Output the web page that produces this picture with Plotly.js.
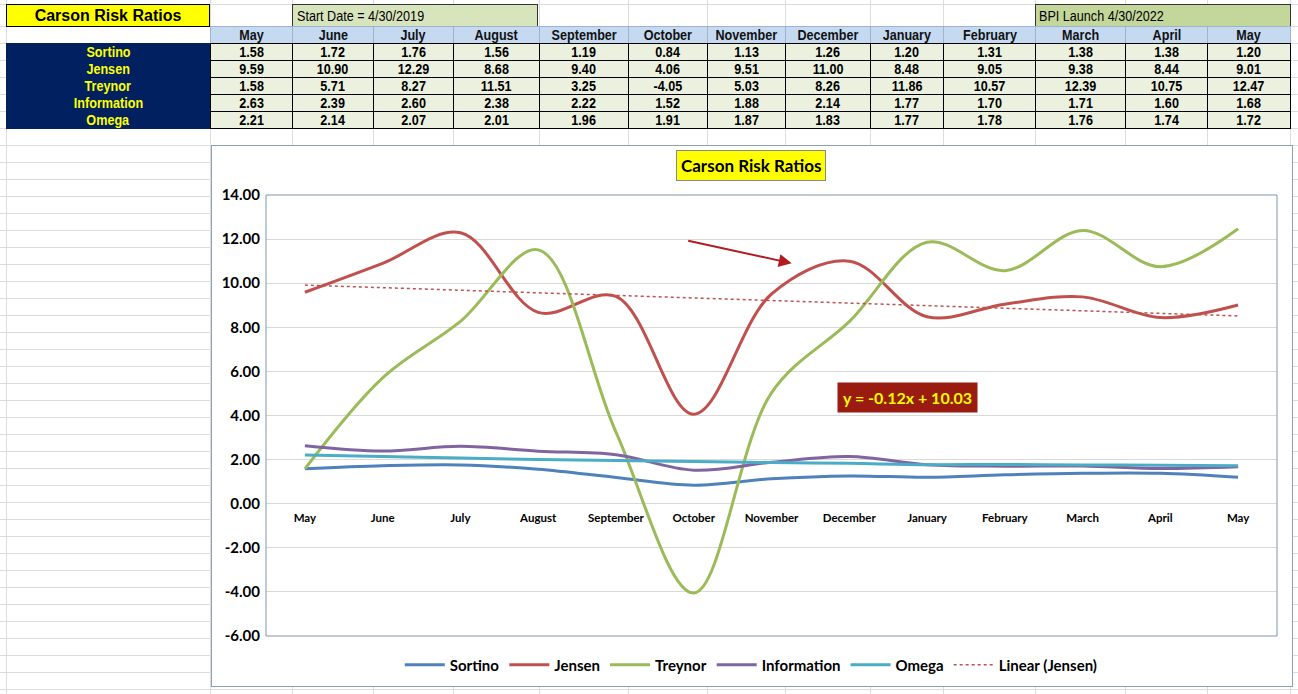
<!DOCTYPE html>
<html>
<head>
<meta charset="utf-8">
<script src="https://cdn.plot.ly/plotly-3.0.1.min.js"></script>
<style>
html, body { margin: 0; padding: 0; background: #fff; width: 1298px; height: 694px; overflow: hidden; position: relative; }
body { font-family: "Liberation Sans", Arial, sans-serif; }
.g { position: absolute; background: #dcdcdc; }
.c { position: absolute; box-sizing: border-box; display: flex; align-items: center; justify-content: center;
     font-weight: bold; font-size: 14px; white-space: nowrap; }
.c span { display: inline-block; transform: scaleX(0.9); transform-origin: center; }
.c.l span { transform-origin: left center; }
#chart { position: absolute; left: 211px; top: 145px; width: 1082px; height: 542px; box-sizing: border-box;
         border: 1px solid #8ca0b6; background: #fff; }
</style>
</head>
<body>
<div id="sheet"></div>
<div id="chart"></div>
<script>
// table / chart data
var months = ['May', 'June', 'July', 'August', 'September', 'October', 'November', 'December', 'January', 'February', 'March', 'April', 'May']
var ratios = ['Sortino', 'Jensen', 'Treynor', 'Information', 'Omega']
var sortino = [1.58, 1.72, 1.76, 1.56, 1.19, 0.84, 1.13, 1.26, 1.20, 1.31, 1.38, 1.38, 1.20]
var jensen = [9.59, 10.90, 12.29, 8.68, 9.40, 4.06, 9.51, 11.00, 8.48, 9.05, 9.38, 8.44, 9.01]
var treynor = [1.58, 5.71, 8.27, 11.51, 3.25, -4.05, 5.03, 8.26, 11.86, 10.57, 12.39, 10.75, 12.47]
var information = [2.63, 2.39, 2.60, 2.38, 2.22, 1.52, 1.88, 2.14, 1.77, 1.70, 1.71, 1.60, 1.68]
var omega = [2.21, 2.14, 2.07, 2.01, 1.96, 1.91, 1.87, 1.83, 1.77, 1.78, 1.76, 1.74, 1.72]
var seriesColors = ['#4f81bd', '#c0504d', '#9bbb59', '#8064a2', '#4bacc6']
var yTickVals = [-6, -4, -2, 0, 2, 4, 6, 8, 10, 12, 14]
var yTickText = ['-6.00', '-4.00', '-2.00', '0.00', '2.00', '4.00', '6.00', '8.00', '10.00', '12.00', '14.00']
var startText = 'Start Date = 4/30/2019'
var launchText = 'BPI Launch 4/30/2022'
var tableTitle = 'Carson Risk Ratios'

var allSeries = [sortino, jensen, treynor, information, omega]

// ---- spreadsheet grid + table ----
var colEdges = [6, 210, 292, 373, 453, 539, 628, 707, 785, 870, 943, 1035, 1125, 1207, 1290]
var sheet = document.getElementById('sheet')
function box(x, y, w, h, cls, css, txt) {
    var d = document.createElement('div')
    d.className = cls
    d.style.left = x + 'px'; d.style.top = y + 'px'
    d.style.width = w + 'px'; d.style.height = h + 'px'
    if (css) d.style.cssText += css
    if (txt !== undefined) {
        var sp = document.createElement('span')
        sp.textContent = txt
        d.appendChild(sp)
    }
    sheet.appendChild(d)
    return d
}
for (var i = 0; i < colEdges.length; i++) box(colEdges[i], 0, 1, 694, 'g')
box(0, 4, 1298, 1, 'g')
for (var yy = 26; yy < 694; yy += 17) box(0, yy, 1298, 1, 'g')

// title row
var t = box(6, 4, 204, 23, 'c', 'background:#ffff00;border:1px solid #000;font-size:16px;', tableTitle)
t.firstChild.style.transform = 'none'
box(292, 4, 246, 23, 'c l', 'background:#d8e4bc;border:1px solid #333;font-weight:normal;font-size:14px;justify-content:flex-start;padding-left:4px;', startText)
box(1035, 4, 256, 23, 'c l', 'background:#c4d79b;border:1px solid #333;font-weight:normal;font-size:14px;justify-content:flex-start;padding-left:3px;', launchText)

// header row
for (var j = 0; j < months.length; j++) {
    box(colEdges[j + 1], 26, colEdges[j + 2] - colEdges[j + 1] + 1, 18, 'c',
        'background:#c5d9f1;border:1px solid #9db3cf;color:#111;', months[j])
}
// label column
box(6, 43, 204, 86, 'c', 'background:#002060;')
for (var r = 0; r < ratios.length; r++) {
    var ry = 43 + r * 17
    box(6, ry, 204, 17, 'c', 'color:#ffff00;', ratios[r])
    for (var j = 0; j < months.length; j++) {
        box(colEdges[j + 1], ry, colEdges[j + 2] - colEdges[j + 1] + 1, 18, 'c',
            'background:#ebf1de;border:1px solid #000;color:#000;', allSeries[r][j].toFixed(2))
    }
}

// ---- chart ----
var xIdx = months.map(function (m, i) { return i })

// linear trendline of Jensen (least squares on x = 1..n, as in the sheet)
var n = jensen.length
var mx = 0, my = 0
for (var i = 0; i < n; i++) { mx += (i + 1); my += jensen[i] }
mx /= n; my /= n
var sxy = 0, sxx = 0
for (var i = 0; i < n; i++) { sxy += (i + 1 - mx) * (jensen[i] - my); sxx += (i + 1 - mx) * (i + 1 - mx) }
var slope = sxy / sxx
var icept = my - slope * mx
var eqText = 'y = ' + slope.toFixed(2) + 'x + ' + icept.toFixed(2)

var data = []
for (var s = 0; s < ratios.length; s++) {
    data.push({
        x: xIdx, y: allSeries[s], name: ratios[s], type: 'scatter', mode: 'lines',
        line: {color: seriesColors[s], width: 3, shape: 'spline', smoothing: 1}
    })
}
data.push({
    x: [xIdx[0], xIdx[n - 1]], y: [icept + slope * 1, icept + slope * n],
    name: 'Linear (Jensen)', type: 'scatter', mode: 'lines',
    line: {color: '#c0504d', width: 1.5, dash: 'dot'}
})

var font = 'Lato, "Open Sans", sans-serif'
var layout = {
    width: 1080, height: 540,
    margin: {l: 54, r: 15, t: 49, b: 50, pad: 0},
    paper_bgcolor: '#fff', plot_bgcolor: '#fff',
    font: {family: font, color: '#000'},
    showlegend: true,
    xaxis: {
        range: [-0.5, 12.5], tickvals: xIdx, ticktext: months,
        anchor: 'free', position: 0.3, showgrid: false, zeroline: false, showline: false,
        ticks: '', ticklabelstandoff: 6,
        tickfont: {family: font, size: 11.5, color: '#000', weight: 'bold'}
    },
    yaxis: {
        range: [-6, 14], tickvals: yTickVals, ticktext: yTickText,
        showgrid: true, gridcolor: '#d9d9d9', gridwidth: 1, zeroline: false, showline: false,
        ticks: '', ticklabelstandoff: 5,
        tickfont: {family: font, size: 15, color: '#000', weight: 'bold'}
    },
    legend: {
        orientation: 'h', xref: 'paper', x: 0.48, xanchor: 'center',
        yref: 'container', y: 0.039, yanchor: 'middle',
        font: {family: font, size: 15, color: '#000', weight: 'bold'},
        itemwidth: 40, tracegroupgap: 0
    },
    shapes: [{
        type: 'rect', xref: 'paper', yref: 'paper', x0: 0, x1: 1, y0: 0, y1: 1,
        line: {color: '#7f95ad', width: 1}
    }],
    annotations: [
        {
            xref: 'paper', yref: 'paper', x: 0.4797, y: 1.066, xanchor: 'center', yanchor: 'middle',
            text: tableTitle, showarrow: false, bgcolor: '#ffff00', bordercolor: '#888', borderwidth: 1, borderpad: 4,
            font: {family: font, size: 17, color: '#000', weight: 'bold'}
        },
        {
            xref: 'x', yref: 'y', x: 7.755, y: 4.82, xanchor: 'center', yanchor: 'middle',
            text: eqText, showarrow: false, bgcolor: '#9a1b10', borderpad: 5,
            font: {family: font, size: 16, color: '#ffff00', weight: 'bold'}
        },
        {
            xref: 'x', yref: 'y', x: 6.26, y: 10.9, ax: -105, ay: -23, text: '',
            showarrow: true, arrowhead: 2, arrowsize: 1.3, arrowwidth: 2, arrowcolor: '#b01c22'
        }
    ]
}

Plotly.newPlot('chart', data, layout, {staticPlot: true, displayModeBar: false})
</script>
</body>
</html>
